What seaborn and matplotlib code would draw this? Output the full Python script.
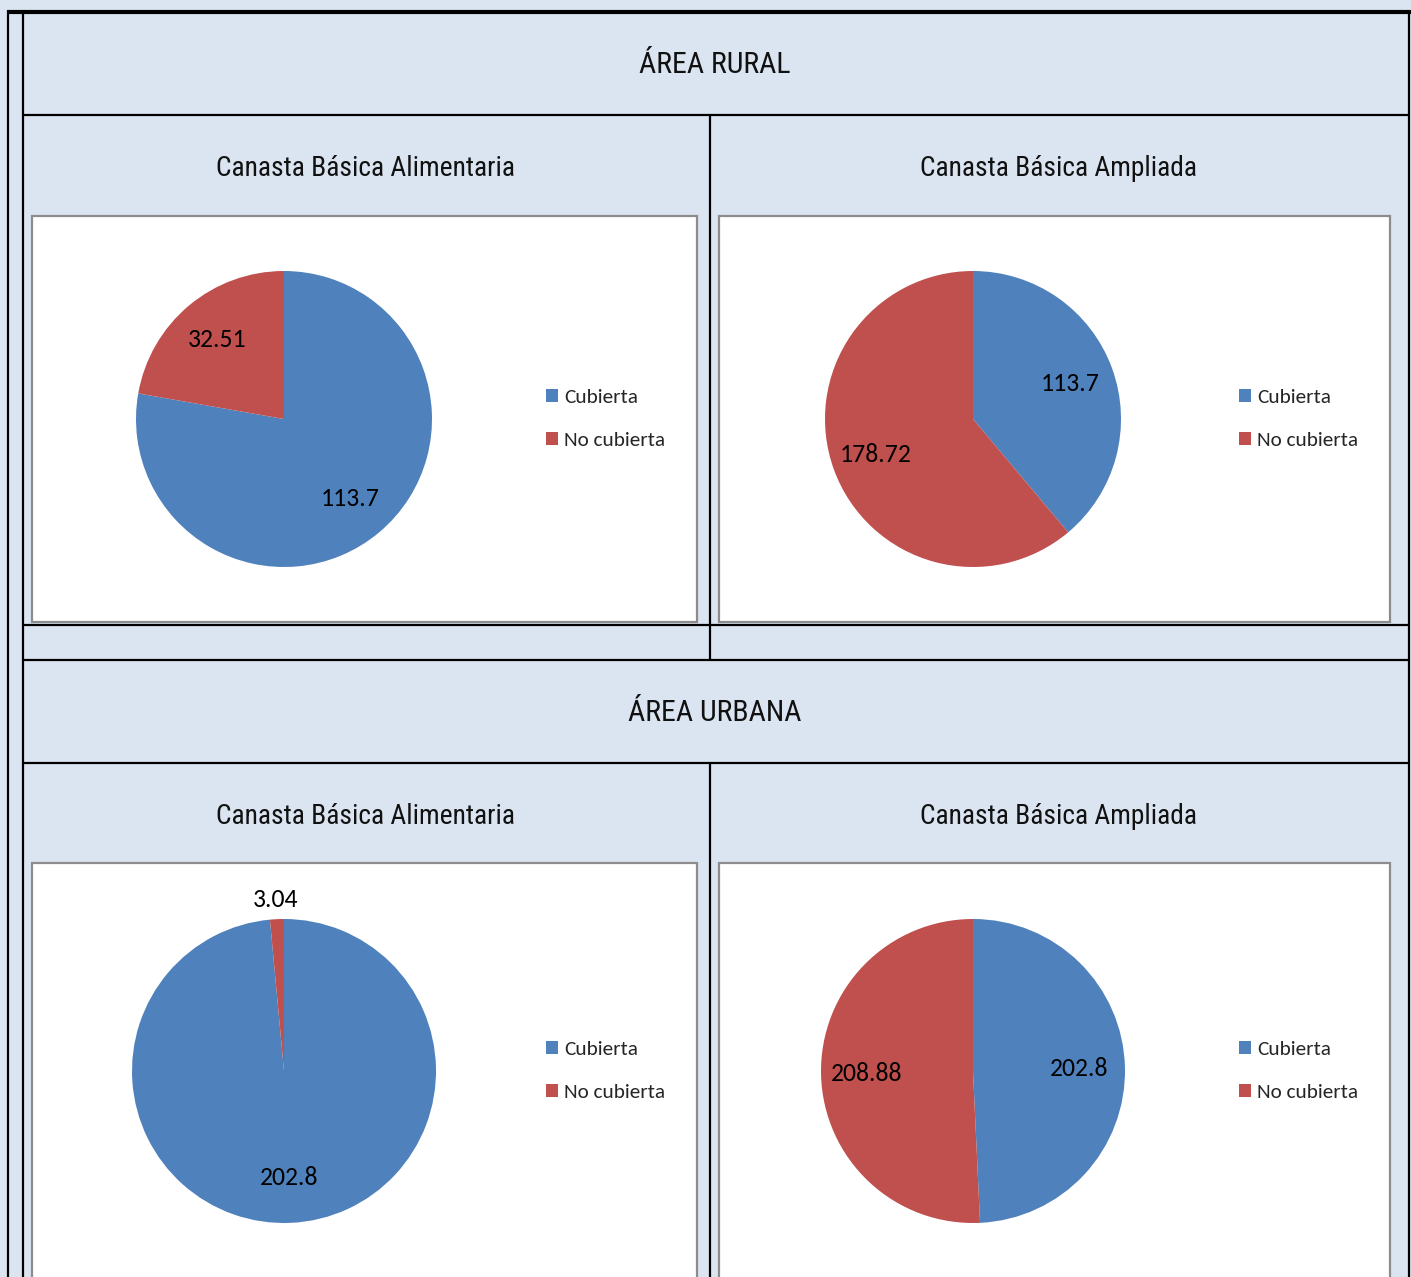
import matplotlib
matplotlib.use("Agg")
import matplotlib.pyplot as plt
from matplotlib import font_manager
from matplotlib.lines import Line2D
from matplotlib.patches import Rectangle, Patch
import seaborn as sns

# ---------------- data ----------------
section_titles = ["ÁREA RURAL", "ÁREA URBANA"]
chart_titles = ["Canasta Básica Alimentaria", "Canasta Básica Ampliada"]
categories = ["Cubierta", "No cubierta"]
rural_alimentaria = [113.7, 32.51]
rural_ampliada = [113.7, 178.72]
urbana_alimentaria = [202.8, 3.04]
urbana_ampliada = [202.8, 208.88]

sns.set_theme(style="white")
avail = {f.name for f in font_manager.fontManager.ttflist}
def pick(*names):
    for n in names:
        if n in avail:
            return n
    return "DejaVu Sans"
title_font = pick("Liberation Sans Narrow", "Roboto Condensed", "Liberation Sans")
label_font = pick("Carlito", "Lato", "Open Sans")
plt.rcParams["font.family"] = [label_font, "DejaVu Sans"]

colors = ["#4F81BD", "#C0504D"]
BG = "#DBE5F1"
W, H = 1411, 1277
fig = plt.figure(figsize=(W / 100, H / 100), dpi=100, facecolor=BG)

def fx(x):
    return x / W
def fy(y):
    return 1 - y / H

def hline(y, x0, x1, lw=1.6):
    fig.add_artist(Line2D([fx(x0), fx(x1)], [fy(y), fy(y)], color="black", lw=lw,
                          transform=fig.transFigure, solid_capstyle="butt"))
def vline(x, y0, y1, lw=1.6):
    fig.add_artist(Line2D([fx(x), fx(x)], [fy(y0), fy(y1)], color="black", lw=lw,
                          transform=fig.transFigure, solid_capstyle="butt"))

# table grid
hline(12, 7, 1411, lw=3.0)
vline(8, 10, 1277)
vline(23, 12, 1277)
vline(1409, 12, 1277)
hline(115, 23, 1409)
vline(710, 115, 660)
hline(625, 23, 1409)
hline(660, 23, 1409)
hline(763, 23, 1409)
vline(710, 763, 1277)

for title, y in zip(section_titles, [65, 713]):
    fig.text(fx(715), fy(y), title, ha="center", va="center", fontsize=21.5,
             family=[title_font, "DejaVu Sans"], color="#111111")
for y in [169, 816]:
    fig.text(fx(366), fy(y), chart_titles[0], ha="center", va="center", fontsize=19.8,
             family=[title_font, "DejaVu Sans"], color="#111111")
    fig.text(fx(1059), fy(y), chart_titles[1], ha="center", va="center", fontsize=19.8,
             family=[title_font, "DejaVu Sans"], color="#111111")

# chart boxes
boxes = [(32, 216, 697, 622), (719, 216, 1390, 622), (32, 863, 697, 1290), (719, 863, 1390, 1290)]
for x0, y0, x1, y1 in boxes:
    fig.add_artist(Rectangle((fx(x0), fy(y1)), fx(x1) - fx(x0), fy(y0) - fy(y1),
                             transform=fig.transFigure, facecolor="white",
                             edgecolor="#8C8C8C", lw=1.6, zorder=0.5))

datasets = [rural_alimentaria, rural_ampliada, urbana_alimentaria, urbana_ampliada]
centers = [(284, 419, 148), (973, 419, 148), (284, 1071, 152), (973, 1071, 152)]
legend_pos = [(546, 419), (1239, 419), (546, 1071), (1239, 1071)]

for vals, (cx, cy, r), (lx, ly) in zip(datasets, centers, legend_pos):
    ax = fig.add_axes([fx(cx - r), fy(cy + r), 2 * r / W, 2 * r / H])
    ax.set_zorder(3)
    ax.set_xlim(-1, 1)
    ax.set_ylim(-1, 1)
    ax.set_aspect("equal")
    ax.axis("off")
    ax.patch.set_alpha(0)
    wedges, texts, autotexts = ax.pie(vals, colors=colors, startangle=90, counterclock=False,
                                      radius=1, autopct="%1.1f", pctdistance=0.7,
                                      wedgeprops=dict(linewidth=0),
                                      textprops=dict(fontsize=18.5, color="black",
                                                     family=[label_font, "DejaVu Sans"]))
    ax.set_xlim(-1, 1)
    ax.set_ylim(-1, 1)
    total = sum(vals)
    for v, t in zip(vals, autotexts):
        t.set_text(f"{v:g}")
        t.set_clip_on(False)
        if v / total < 0.05:
            px_, py_ = t.get_position()
            t.set_position((px_ / 0.7 * 1.13, py_ / 0.7 * 1.13))
    handles = [Patch(facecolor=c, edgecolor="none") for c in colors]
    leg = fig.legend(handles, categories, loc="center left", bbox_to_anchor=(fx(lx), fy(ly)),
                     frameon=False, fontsize=15.3, handlelength=0.55, handleheight=0.55,
                     handletextpad=0.3, labelspacing=1.25, borderpad=0, borderaxespad=0)
    leg.set_zorder(4)

fig.savefig("out.png", dpi=100, facecolor=BG)
